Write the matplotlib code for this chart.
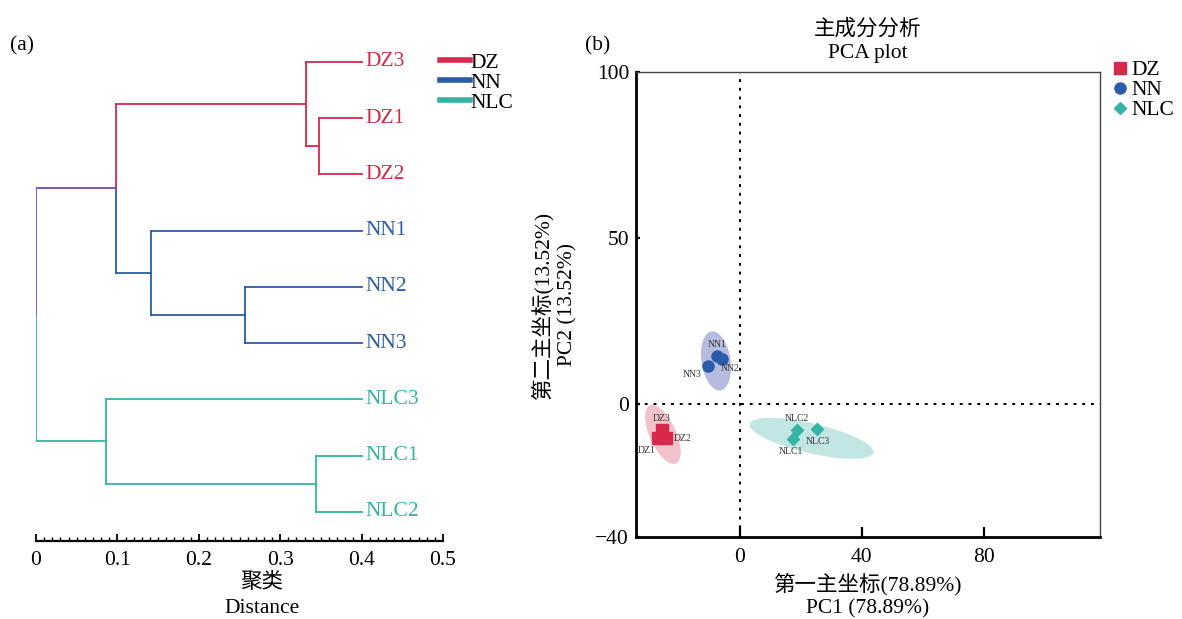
import matplotlib
matplotlib.use("Agg")
import matplotlib.pyplot as plt
from matplotlib.patches import Ellipse
from matplotlib.lines import Line2D

plt.rcParams['font.family'] = ['Liberation Serif', 'Noto Sans CJK SC']
plt.rcParams['axes.unicode_minus'] = True

# group colours
groups = ['DZ', 'NN', 'NLC']
group_colors = {'DZ': '#d6294b', 'NN': '#2b5caa', 'NLC': '#35b3a5'}
mixed_color = '#7a48b0'
ellipse_colors = {'DZ': '#f2c2cb', 'NN': '#b8bbe0', 'NLC': '#c2e6e2'}

# ---------------- dendrogram data ----------------
leaf_order = ['DZ3', 'DZ1', 'DZ2', 'NN1', 'NN2', 'NN3', 'NLC3', 'NLC1', 'NLC2']
leaf_x = 0.40
# node: (top child, bottom child, distance)
links = {
    'DZ12': ('DZ1', 'DZ2', 0.348),
    'DZ': ('DZ3', 'DZ12', 0.332),
    'NN23': ('NN2', 'NN3', 0.257),
    'NN': ('NN1', 'NN23', 0.141),
    'DZNN': ('DZ', 'NN', 0.098),
    'NLC12': ('NLC1', 'NLC2', 0.344),
    'NLC': ('NLC3', 'NLC12', 0.086),
    'root': ('DZNN', 'NLC', 0.0),
}
dist_ticks = [0, 0.1, 0.2, 0.3, 0.4, 0.5]
dist_labels = ['0', '0.1', '0.2', '0.3', '0.4', '0.5']

# ---------------- PCA data ----------------
pca_names = ['DZ1', 'DZ2', 'DZ3', 'NN1', 'NN2', 'NN3', 'NLC1', 'NLC2', 'NLC3']
pca_groups = ['DZ', 'DZ', 'DZ', 'NN', 'NN', 'NN', 'NLC', 'NLC', 'NLC']
pc1 = [-26.8, -24.2, -25.5, -7.5, -5.9, -10.5, 17.3, 18.6, 25.2]
pc2 = [-10.3, -10.3, -7.7, 14.5, 13.6, 11.5, -10.6, -7.7, -7.6]
# confidence ellipses: centre x, centre y, long axis, short axis, angle
ell_cx = {'DZ': -25.2, 'NN': -7.8, 'NLC': 23.5}
ell_cy = {'DZ': -9.1, 'NN': 13.0, 'NLC': -10.3}
ell_w = {'DZ': 19.5, 'NN': 18.0, 'NLC': 41.5}
ell_h = {'DZ': 8.5, 'NN': 9.5, 'NLC': 9.0}
ell_ang = {'DZ': -63, 'NN': -80, 'NLC': -12}
markers = {'DZ': 's', 'NN': 'o', 'NLC': 'D'}
marker_sizes = {'DZ': 9, 'NN': 8, 'NLC': 6}
label_offsets = {
    'DZ1': (-8, -9), 'DZ2': (12, 0), 'DZ3': (0, 8),
    'NN1': (0, 8), 'NN2': (6, -7), 'NN3': (-11, -6),
    'NLC1': (-1, -9), 'NLC2': (0, 8), 'NLC3': (1, -9),
}

fs = 15.5

fig = plt.figure(figsize=(11.82, 6.19), dpi=100)

# ================= (a) dendrogram =================
ax1 = fig.add_axes([36 / 1182, 78 / 619, 407 / 1182, 501 / 619])

ypos = {name: i for i, name in enumerate(leaf_order)}
xpos = {name: leaf_x for name in leaf_order}
color = {name: group_colors[''.join(c for c in name if c.isalpha())] for name in leaf_order}

for node in ['DZ12', 'DZ', 'NN23', 'NN', 'DZNN', 'NLC12', 'NLC', 'root']:
    a, b, d = links[node]
    ypos[node] = (ypos[a] + ypos[b]) / 2
    xpos[node] = d
    color[node] = color[a] if color[a] == color[b] else mixed_color
    lw = 1.3
    ax1.plot([d, xpos[a]], [ypos[a], ypos[a]], color=color[a], lw=lw)
    ax1.plot([d, xpos[b]], [ypos[b], ypos[b]], color=color[b], lw=lw)
    ax1.plot([d, d], [ypos[a], ypos[node]], color=color[a], lw=lw)
    ax1.plot([d, d], [ypos[node], ypos[b]], color=color[b], lw=lw)

for name in leaf_order:
    ax1.text(leaf_x + 0.005, ypos[name], name, color=color[name],
             fontsize=fs, va='center', ha='left')

ax1.set_xlim(0, 0.5)
ax1.set_ylim(8.52, -0.39)
for s in ['top', 'right', 'left']:
    ax1.spines[s].set_visible(False)
ax1.spines['bottom'].set_linewidth(1.6)
ax1.set_yticks([])
ax1.set_xticks(dist_ticks)
ax1.set_xticklabels(dist_labels)
ax1.set_xticks([i / 100 for i in range(51)], minor=True)
ax1.tick_params(axis='x', which='major', direction='in', length=5, width=1.3,
                labelsize=fs, pad=7)
ax1.tick_params(axis='x', which='minor', direction='in', length=3, width=1.0)
ax1.set_xlabel('聚类\nDistance', fontsize=fs, linespacing=1.4)
ax1.xaxis.set_label_coords(0.555, -0.064)

legend_a = [Line2D([0], [0], color=group_colors[g], lw=4) for g in groups]
fig.legend(legend_a, groups, loc='upper left', bbox_to_anchor=(431 / 1182, 1 - 44 / 619),
           frameon=False, fontsize=fs, handlelength=1.4, handletextpad=0.05,
           labelspacing=0.0, borderaxespad=0)

fig.text(10 / 1182, 1 - 46 / 619, '(a)', fontsize=fs, va='center', ha='left')

# ================= (b) PCA =================
ax2 = fig.add_axes([636 / 1182, 82 / 619, 464 / 1182, 465 / 619])

for g in groups:
    ax2.add_patch(Ellipse((ell_cx[g], ell_cy[g]), ell_w[g], ell_h[g], angle=ell_ang[g],
                          facecolor=ellipse_colors[g], edgecolor='none', zorder=1))

ax2.axhline(0, color='black', ls=(0, (1.5, 3)), lw=1.4, zorder=2)
ax2.axvline(0, color='black', ls=(0, (1.5, 3)), lw=1.4, zorder=2)

for g in groups:
    xs = [x for x, gg in zip(pc1, pca_groups) if gg == g]
    ys = [y for y, gg in zip(pc2, pca_groups) if gg == g]
    ax2.plot(xs, ys, ls='none', marker=markers[g], ms=marker_sizes[g],
             color=group_colors[g], zorder=3, label=g)

for name, x, y in zip(pca_names, pc1, pc2):
    dx, dy = label_offsets[name]
    ax2.annotate(name, (x, y), xytext=(dx, dy), textcoords='offset points',
                 fontsize=7, color='#333333', ha='center', va='center', zorder=4)

ax2.set_xlim(-34, 118)
ax2.set_ylim(-40, 100)
ax2.set_xticks([0, 40, 80])
ax2.set_yticks([-40, 0, 50, 100])
ax2.set_yticklabels(['\u221240', '0', '50', '100'])
ax2.tick_params(axis='both', direction='in', labelsize=fs, width=1.6)
ax2.tick_params(axis='x', length=7, pad=8)
ax2.tick_params(axis='y', length=3, pad=5)
ax2.spines['left'].set_linewidth(2)
ax2.spines['bottom'].set_linewidth(2)
ax2.spines['top'].set_linewidth(1)
ax2.spines['right'].set_linewidth(1)
ax2.spines['top'].set_color('#444444')
ax2.spines['right'].set_color('#444444')

ax2.set_title('主成分分析\nPCA plot', fontsize=fs, linespacing=1.35, pad=10)
ax2.set_xlabel('第一主坐标(78.89%)\nPC1 (78.89%)', fontsize=fs, linespacing=1.25)
ax2.set_ylabel('第二主坐标(13.52%)\nPC2 (13.52%)', fontsize=fs, linespacing=1.3,
               labelpad=13)

ax2.legend(loc='upper left', bbox_to_anchor=(1.005, 1.044), frameon=False, fontsize=fs,
           handlelength=0.8, handletextpad=0.15, labelspacing=0.0, borderaxespad=0)

fig.text(585 / 1182, 1 - 46 / 619, '(b)', fontsize=fs, va='center', ha='left')

fig.savefig('out.png', dpi=100)
